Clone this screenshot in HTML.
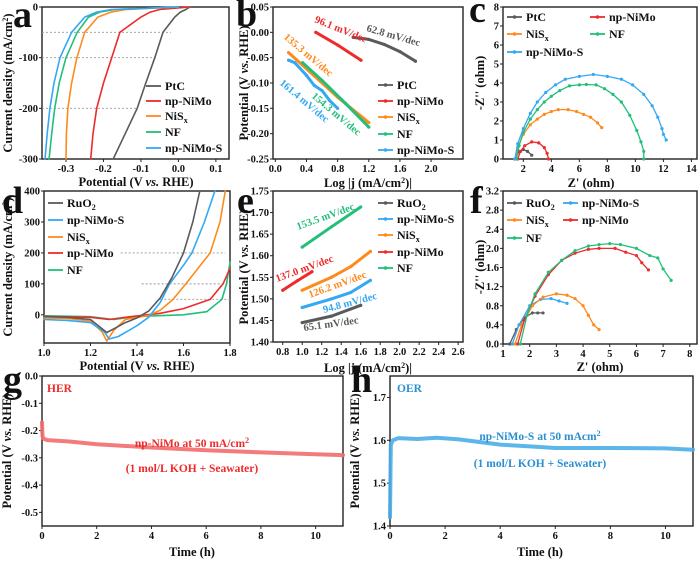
<!DOCTYPE html>
<html><head><meta charset="utf-8">
<style>
html,body{margin:0;padding:0;background:#fff;}
#fig{position:absolute;left:0;top:0;width:700px;height:562px;}
svg text{font-family:"Liberation Serif",serif;font-weight:bold;}
</style></head>
<body>
<svg id="fig" width="700" height="562" viewBox="0 0 700 562"></svg>
<script>
// ---------- DATA ----------
const aCurrent = [0,-5,-10,-20,-50,-100,-150,-200,-250,-300];
const aPtC     = [0.03,0.02,0.005,-0.01,-0.041,-0.063,-0.087,-0.11,-0.142,-0.174];
const aNiMo    = [0.03,-0.05,-0.075,-0.10,-0.156,-0.178,-0.2,-0.218,-0.228,-0.234];
const aNiSx    = [0.0,-0.14,-0.18,-0.215,-0.25,-0.271,-0.285,-0.295,-0.299,-0.30];
const aNF      = [0.0,-0.17,-0.21,-0.24,-0.27,-0.30,-0.318,-0.33,-0.338,-0.345];
const aNiMoS   = [0.0,-0.18,-0.218,-0.25,-0.285,-0.316,-0.332,-0.343,-0.35,-0.356];
const bPtCx=[1.0,1.2,1.4,1.6,1.8], bPtCy=[-0.01,-0.014,-0.024,-0.038,-0.057];
const bNiMox=[0.52,0.8,1.1], bNiMoy=[0.0,-0.025,-0.055];
const bNiSxx=[0.17,0.5,0.8,1.2], bNiSxy=[-0.04,-0.086,-0.128,-0.178];
const bNFx=[0.35,0.6,0.9,1.2], bNFy=[-0.06,-0.095,-0.14,-0.187];
const bNiMoSx=[0.17,0.25,0.4,0.5,0.6,0.7,0.8], bNiMoSy=[-0.055,-0.06,-0.085,-0.105,-0.115,-0.135,-0.15];
const cPtCx=[1.4,1.7,2.0,2.3,2.6], cPtCy=[0,0.4,0.5,0.4,0.2];
const cNiMox=[1.6,1.8,2.1,2.6,3.1,3.5,3.7,3.8], cNiMoy=[0,0.4,0.7,0.9,0.85,0.6,0.3,0];
const cNiSxx=[1.4,1.6,2,2.5,3,3.5,4,4.5,5.2,5.8,6.3,6.8,7.3,7.6], cNiSxy=[0,0.6,1.3,1.8,2.1,2.35,2.5,2.6,2.6,2.5,2.35,2.2,1.9,1.65];
const cNFx=[1.5,1.7,2,2.5,3,3.5,4,4.6,5.3,6,6.5,7.2,7.8,8.4,9,9.6,10.1,10.4,10.6,10.6], cNFy=[0,0.7,1.4,2.1,2.6,3.0,3.3,3.6,3.85,3.9,3.92,3.9,3.7,3.4,3.0,2.3,1.5,0.9,0.4,0];
const cNiMoSx=[1.4,1.6,2,2.5,3,3.6,4.3,5,6,7,8,9,9.8,10.6,11.2,11.6,11.9,12.0,12.2], cNiMoSy=[0,0.8,1.6,2.4,3.0,3.5,3.9,4.2,4.35,4.45,4.35,4.2,3.9,3.4,2.8,2.2,1.6,1.3,1.0];
const dRuO2x=[1.0,1.1,1.2,1.25,1.27,1.3,1.35,1.4,1.45,1.5,1.55,1.6,1.64,1.67], dRuO2y=[-5,-8,-15,-45,-57,-45,-25,-10,12,55,120,200,300,400];
const dNiMoSx=[1.0,1.1,1.2,1.26,1.28,1.32,1.4,1.45,1.5,1.54,1.6,1.636,1.69,1.735], dNiMoSy=[-15,-18,-25,-55,-78,-70,-35,-8,40,100,160,200,300,400];
const dNiSxx=[1.0,1.1,1.2,1.25,1.27,1.3,1.35,1.45,1.5,1.555,1.61,1.715,1.757,1.78], dNiSxy=[-10,-12,-20,-55,-85,-50,-15,-2,15,50,100,200,300,400];
const dNiMox=[1.0,1.2,1.28,1.35,1.5,1.6,1.715,1.77,1.8], dNiMoy=[-5,-8,-15,-8,5,20,50,100,150];
const dNFx=[1.0,1.2,1.3,1.4,1.6,1.7,1.765,1.785,1.8], dNFy=[-3,-6,-15,-5,0,10,50,100,170];
const eNFx=[1.0,1.3,1.6], eNFy=[1.62,1.667,1.713];
const eNiMox=[0.8,0.95,1.1], eNiMoy=[1.52,1.542,1.563];
const eNiSxx=[1.0,1.3,1.5,1.7], eNiSxy=[1.52,1.55,1.575,1.61];
const eNiMoSx=[1.0,1.3,1.5,1.7], eNiMoSy=[1.48,1.5,1.515,1.543];
const eRuO2x=[1.0,1.3,1.6], eRuO2y=[1.445,1.46,1.485];
const fRuO2x=[1.25,1.5,1.8,2.1,2.3,2.5], fRuO2y=[0,0.3,0.55,0.65,0.65,0.65];
const fNiMoSx=[1.35,1.6,2.0,2.4,2.8,3.1,3.4], fNiMoSy=[0,0.4,0.8,0.93,0.95,0.9,0.85];
const fNiSxx=[1.45,1.7,2.1,2.5,3,3.4,3.7,4.0,4.2,4.4,4.6], fNiSxy=[0,0.4,0.8,0.98,1.05,1.02,0.95,0.8,0.6,0.4,0.3];
const fNiMox=[1.55,1.8,2.2,2.7,3.2,3.7,4.2,4.6,5.2,5.6,6.0,6.2,6.45], fNiMoy=[0,0.5,1.0,1.45,1.75,1.9,1.98,2.0,2.0,1.92,1.85,1.7,1.55];
const fNFx=[1.65,1.9,2.2,2.7,3.2,3.7,4.2,4.6,5.0,5.4,6.0,6.5,6.8,7.0,7.3], fNFy=[0,0.6,1.05,1.5,1.75,1.95,2.05,2.08,2.1,2.08,2.0,1.85,1.8,1.57,1.33];
const gTime=[0,0.02,0.05,0.2,1,2,4,6,8,10,11], gPot=[-0.17,-0.22,-0.23,-0.235,-0.24,-0.25,-0.262,-0.272,-0.28,-0.287,-0.29];
const hTime=[0,0.03,0.1,0.3,1,1.7,2.5,3,4,5,6,8,10,11], hPot=[1.42,1.59,1.60,1.605,1.603,1.606,1.602,1.598,1.59,1.586,1.582,1.582,1.581,1.578];
const aXT=[-0.3,-0.2,-0.1,0.0,0.1], aXL=["-0.3","-0.2","-0.1","0.0","0.1"], aYT=[0,-100,-200,-300], aYL=["0","-100","-200","-300"];
const bXT=[0,0.4,0.8,1.2,1.6,2.0], bXL=["0.0","0.4","0.8","1.2","1.6","2.0"], bYT=[0.05,0,-0.05,-0.1,-0.15,-0.2,-0.25], bYL=["0.05","0.00","-0.05","-0.10","-0.15","-0.20","-0.25"];
const cXT=[2,4,6,8,10,12,14], cXL=["2","4","6","8","10","12","14"], cYT=[0,1,2,3,4,5,6,7,8], cYL=["0","1","2","3","4","5","6","7","8"];
const dXT=[1.0,1.2,1.4,1.6,1.8], dXL=["1.0","1.2","1.4","1.6","1.8"], dYT=[0,100,200,300,400], dYL=["0","100","200","300","400"];
const eXT=[0.8,1.0,1.2,1.4,1.6,1.8,2.0,2.2,2.4,2.6], eXL=["0.8","1.0","1.2","1.4","1.6","1.8","2.0","2.2","2.4","2.6"], eYT=[1.40,1.45,1.50,1.55,1.60,1.65,1.70,1.75], eYL=["1.40","1.45","1.50","1.55","1.60","1.65","1.70","1.75"];
const fXT=[1,2,3,4,5,6,7,8], fXL=["1","2","3","4","5","6","7","8"], fYT=[0,0.4,0.8,1.2,1.6,2.0,2.4,2.8,3.2], fYL=["0.0","0.4","0.8","1.2","1.6","2.0","2.4","2.8","3.2"];
const gXT=[0,2,4,6,8,10], gXL=["0","2","4","6","8","10"], gYT=[0,-0.1,-0.2,-0.3,-0.4,-0.5], gYL=["0.0","-0.1","-0.2","-0.3","-0.4","-0.5"];
const hXT=[0,2,4,6,8,10], hXL=["0","2","4","6","8","10"], hYT=[1.4,1.5,1.6,1.7], hYL=["1.4","1.5","1.6","1.7"];

const GRAY="#5a5a5a", RED="#ee2a2a", ORA="#ff8a1c", GRN="#22bf7a", BLU="#34a8f2";

const NS="http://www.w3.org/2000/svg";
const svg=document.getElementById('fig');
function mk(tag, attrs, parent, name){
  const el=document.createElementNS(NS, tag);
  for(const k in attrs) el.setAttribute(k, attrs[k]);
  
  
  parent.appendChild(el);
  return el;
}
function txt(parent, x, y, s, size, name, opt){
  opt=opt||{};
  const t=mk('text',{x:x,y:y,'font-size':size,fill:opt.fill||'#111','text-anchor':opt.anchor||'start'},parent,name);
  if(opt.rot!==undefined) t.setAttribute('transform','rotate('+opt.rot+' '+x+' '+y+')');
  t.innerHTML=s;
  return t;
}
function panel(id,b,xd,yd,xt,xl,yt,yl){
  const g=mk('g',{},svg,'panel-'+id);
  const sx=v=>b.x0+(v-xd[0])/(xd[1]-xd[0])*(b.x1-b.x0);
  const sy=v=>b.y1-(v-yd[0])/(yd[1]-yd[0])*(b.y1-b.y0);
  mk('rect',{x:b.x0,y:b.y0,width:b.x1-b.x0,height:b.y1-b.y0,fill:'none',stroke:'#222','stroke-width':1.4},g,'plot-frame-'+id);
  xt.forEach((v,i)=>{
    mk('line',{x1:sx(v),x2:sx(v),y1:b.y1,y2:b.y1+3,stroke:'#222'},g,'x-tick-'+id);
    txt(g,sx(v),b.y1+13,xl[i],10.5,'x-tick-label-'+id,{anchor:'middle'});
  });
  yt.forEach((v,i)=>{
    mk('line',{x1:b.x0-3,x2:b.x0,y1:sy(v),y2:sy(v),stroke:'#222'},g,'y-tick-'+id);
    txt(g,b.x0-4,sy(v)+3.5,yl[i],10.5,'y-tick-label-'+id,{anchor:'end'});
  });
  return {g,sx,sy};
}
function series(p,xs,ys,color,name,opt){
  opt=opt||{};
  const d=xs.map((x,i)=>(i?'L':'M')+p.sx(x).toFixed(1)+' '+p.sy(ys[i]).toFixed(1)).join(' ');
  mk('path',{d:d,fill:'none',stroke:color,'stroke-width':opt.w||1.6,'stroke-linejoin':'round','stroke-linecap':'round',opacity:opt.op||1},p.g,name);
  if(opt.dots){
    xs.forEach((x,i)=>{
      mk('circle',{cx:p.sx(x),cy:p.sy(ys[i]),r:opt.r||1.6,fill:color},p.g,name+'-point');
    });
  }
}
function legend(g,x,y,label,color,dots,name){
  mk('line',{x1:x,x2:x+15,y1:y,y2:y,stroke:color,'stroke-width':1.8},g,name+'-swatch');
  if(dots) mk('circle',{cx:x+7.5,cy:y,r:1.8,fill:color},g,name+'-marker');
  txt(g,x+19,y+4,label,12,name+'-label');
}
function dashed(p,x0,x1,y){
  mk('line',{x1:p.sx(x0),x2:p.sx(x1),y1:p.sy(y),y2:p.sy(y),stroke:'#999','stroke-dasharray':'2,2','stroke-width':0.9},p.g,'reference-line');
}

// ---- a ----
const pa=panel('a',{x0:42,x1:229,y0:7,y1:159},[-0.364,0.135],[-300,0],aXT,aXL,aYT,aYL);
dashed(pa,-0.364,-0.02,-50); dashed(pa,-0.364,-0.06,-100); dashed(pa,-0.364,-0.11,-200);
series(pa,aPtC,aCurrent,GRAY,'ptc-lsv-curve');
series(pa,aNiMo,aCurrent,RED,'np-nimo-lsv-curve');
series(pa,aNiSx,aCurrent,ORA,'nisx-lsv-curve');
series(pa,aNF,aCurrent,GRN,'nf-lsv-curve');
series(pa,aNiMoS,aCurrent,BLU,'np-nimo-s-lsv-curve');
legend(pa.g,146,86,'PtC',GRAY,false,'legend-ptc');
legend(pa.g,146,101,'np-NiMo',RED,false,'legend-np-nimo');
legend(pa.g,146,116,'NiS<tspan font-size="8" dy="3">x</tspan>',ORA,false,'legend-nisx');
legend(pa.g,146,132,'NF',GRN,false,'legend-nf');
legend(pa.g,146,148,'np-NiMo-S',BLU,false,'legend-np-nimo-s');
txt(svg,13,27,'a',38,'panel-label-a');
txt(svg,12,83,'Current density (mA/cm<tspan font-size="8" dy="-4">2</tspan><tspan dy="4">)</tspan>',12.5,'y-axis-title-a',{anchor:'middle',rot:-90});
txt(svg,136,186,'Potential (V <tspan font-style="italic">vs.</tspan> RHE)',12.5,'x-axis-title-a',{anchor:'middle'});

// ---- b ----
const pb=panel('b',{x0:273,x1:463,y0:7,y1:159},[-0.03,2.41],[-0.25,0.05],bXT,bXL,bYT,bYL);
series(pb,bPtCx,bPtCy,GRAY,'ptc-tafel-line',{w:3,dots:true});
series(pb,bNiMox,bNiMoy,RED,'np-nimo-tafel-line',{w:3,dots:true});
series(pb,bNiSxx,bNiSxy,ORA,'nisx-tafel-line',{w:3,dots:true});
series(pb,bNFx,bNFy,GRN,'nf-tafel-line',{w:3,dots:true});
series(pb,bNiMoSx,bNiMoSy,BLU,'np-nimo-s-tafel-line',{w:3,dots:true});
legend(pb.g,378,85,'PtC',GRAY,true,'legend-ptc');
legend(pb.g,378,101,'np-NiMo',RED,true,'legend-np-nimo');
legend(pb.g,378,117,'NiS<tspan font-size="8" dy="3">x</tspan>',ORA,true,'legend-nisx');
legend(pb.g,378,134,'NF',GRN,true,'legend-nf');
legend(pb.g,378,150,'np-NiMo-S',BLU,true,'legend-np-nimo-s');
txt(pb.g,314,22,'96.1 mV/dec',10.5,'slope-label-np-nimo',{fill:RED,rot:22});
txt(pb.g,366,31,'62.8 mV/dec',10.5,'slope-label-ptc',{fill:GRAY,rot:16});
txt(pb.g,283,38,'135.3 mV/dec',10.5,'slope-label-nisx',{fill:ORA,rot:40});
txt(pb.g,279,84,'161.4 mV/dec',10.5,'slope-label-np-nimo-s',{fill:BLU,rot:40});
txt(pb.g,311,97,'154.3 mV/dec',10.5,'slope-label-nf',{fill:GRN,rot:40});
txt(svg,236,26,'b',38,'panel-label-b');
txt(svg,248,83,'Potential (V <tspan font-style="italic">vs.</tspan> RHE)',12.5,'y-axis-title-b',{anchor:'middle',rot:-90});
txt(svg,368,187,'Log |j (mA/cm<tspan font-size="8" dy="-4">2</tspan><tspan dy="4">)|</tspan>',12.5,'x-axis-title-b',{anchor:'middle'});

// ---- c ----
const pc=panel('c',{x0:503,x1:697,y0:7,y1:159},[0.55,14.4],[0,8],cXT,cXL,cYT,cYL);
series(pc,cPtCx,cPtCy,GRAY,'ptc-nyquist',{dots:true,w:1.3});
series(pc,cNiMox,cNiMoy,RED,'np-nimo-nyquist',{dots:true,w:1.3});
series(pc,cNiSxx,cNiSxy,ORA,'nisx-nyquist',{dots:true,w:1.3});
series(pc,cNFx,cNFy,GRN,'nf-nyquist',{dots:true,w:1.3});
series(pc,cNiMoSx,cNiMoSy,BLU,'np-nimo-s-nyquist',{dots:true,w:1.3});
legend(pc.g,507,17,'PtC',GRAY,true,'legend-ptc');
legend(pc.g,590,17,'np-NiMo',RED,true,'legend-np-nimo');
legend(pc.g,507,34,'NiS<tspan font-size="8" dy="3">x</tspan>',ORA,true,'legend-nisx');
legend(pc.g,590,34,'NF',GRN,true,'legend-nf');
legend(pc.g,507,52,'np-NiMo-S',BLU,true,'legend-np-nimo-s');
txt(svg,469,22,'c',38,'panel-label-c');
txt(svg,484,83,'-Z\'\' (ohm)',12.5,'y-axis-title-c',{anchor:'middle',rot:-90});
txt(svg,591,187,'Z\' (ohm)',12.5,'x-axis-title-c',{anchor:'middle'});

// ---- d ----
const pd=panel('d',{x0:44,x1:230,y0:191,y1:343},[1.0,1.8],[-91,400],dXT,dXL,dYT,dYL);
dashed(pd,1.33,1.78,200); dashed(pd,1.42,1.8,100); dashed(pd,1.5,1.8,50);
series(pd,dNFx,dNFy,GRN,'nf-oer-lsv');
series(pd,dNiMox,dNiMoy,RED,'np-nimo-oer-lsv');
series(pd,dNiSxx,dNiSxy,ORA,'nisx-oer-lsv');
series(pd,dNiMoSx,dNiMoSy,BLU,'np-nimo-s-oer-lsv');
series(pd,dRuO2x,dRuO2y,GRAY,'ruo2-oer-lsv');
legend(pd.g,48,203,'RuO<tspan font-size="8" dy="3">2</tspan>',GRAY,false,'legend-ruo2');
legend(pd.g,48,220,'np-NiMo-S',BLU,false,'legend-np-nimo-s');
legend(pd.g,48,237,'NiS<tspan font-size="8" dy="3">x</tspan>',ORA,false,'legend-nisx');
legend(pd.g,48,253,'np-NiMo',RED,false,'legend-np-nimo');
legend(pd.g,48,270,'NF',GRN,false,'legend-nf');
txt(svg,2,213,'d',38,'panel-label-d');
txt(svg,12,267,'Current density (mA/cm<tspan font-size="8" dy="-4">2</tspan><tspan dy="4">)</tspan>',12.5,'y-axis-title-d',{anchor:'middle',rot:-90});
txt(svg,137,370,'Potential (V <tspan font-style="italic">vs.</tspan> RHE)',12.5,'x-axis-title-d',{anchor:'middle'});

// ---- e ----
const pe=panel('e',{x0:273,x1:463,y0:191,y1:342},[0.70,2.65],[1.40,1.75],eXT,eXL,eYT,eYL);
series(pe,eNFx,eNFy,GRN,'nf-oer-tafel',{w:3,dots:true});
series(pe,eNiMox,eNiMoy,RED,'np-nimo-oer-tafel',{w:3,dots:true});
series(pe,eNiSxx,eNiSxy,ORA,'nisx-oer-tafel',{w:3,dots:true});
series(pe,eNiMoSx,eNiMoSy,BLU,'np-nimo-s-oer-tafel',{w:3,dots:true});
series(pe,eRuO2x,eRuO2y,GRAY,'ruo2-oer-tafel',{w:3,dots:true});
legend(pe.g,378,203,'RuO<tspan font-size="8" dy="3">2</tspan>',GRAY,true,'legend-ruo2');
legend(pe.g,378,219,'np-NiMo-S',BLU,true,'legend-np-nimo-s');
legend(pe.g,378,235,'NiS<tspan font-size="8" dy="3">x</tspan>',ORA,true,'legend-nisx');
legend(pe.g,378,252,'np-NiMo',RED,true,'legend-np-nimo');
legend(pe.g,378,268,'NF',GRN,true,'legend-nf');
txt(pe.g,298,230,'153.5 mV/dec',10.5,'slope-label-nf',{fill:GRN,rot:-20});
txt(pe.g,277,282,'137.0 mV/dec',10.5,'slope-label-np-nimo',{fill:RED,rot:-20});
txt(pe.g,310,298,'126.2 mV/dec',10.5,'slope-label-nisx',{fill:ORA,rot:-20});
txt(pe.g,324,313,'94.8 mV/dec',10.5,'slope-label-np-nimo-s',{fill:BLU,rot:-15});
txt(pe.g,304,331,'65.1 mV/dec',10.5,'slope-label-ruo2',{fill:GRAY,rot:-8});
txt(svg,237,213,'e',38,'panel-label-e');
txt(svg,248,267,'Potential (V <tspan font-style="italic">vs.</tspan> RHE)',12.5,'y-axis-title-e',{anchor:'middle',rot:-90});
txt(svg,368,372,'Log |j (mA/cm<tspan font-size="8" dy="-4">2</tspan><tspan dy="4">)|</tspan>',12.5,'x-axis-title-e',{anchor:'middle'});

// ---- f ----
const pf=panel('f',{x0:503,x1:697,y0:191,y1:344},[1,8.27],[0,3.2],fXT,fXL,fYT,fYL);
series(pf,fRuO2x,fRuO2y,GRAY,'ruo2-nyquist',{dots:true,w:1.3});
series(pf,fNiMoSx,fNiMoSy,BLU,'np-nimo-s-oer-nyquist',{dots:true,w:1.3});
series(pf,fNiSxx,fNiSxy,ORA,'nisx-oer-nyquist',{dots:true,w:1.3});
series(pf,fNiMox,fNiMoy,RED,'np-nimo-oer-nyquist',{dots:true,w:1.3});
series(pf,fNFx,fNFy,GRN,'nf-oer-nyquist',{dots:true,w:1.3});
legend(pf.g,507,203,'RuO<tspan font-size="8" dy="3">2</tspan>',GRAY,true,'legend-ruo2');
legend(pf.g,563,203,'np-NiMo-S',BLU,true,'legend-np-nimo-s');
legend(pf.g,507,220,'NiS<tspan font-size="8" dy="3">x</tspan>',ORA,true,'legend-nisx');
legend(pf.g,563,220,'np-NiMo',RED,true,'legend-np-nimo');
legend(pf.g,507,238,'NF',GRN,true,'legend-nf');
txt(svg,470,213,'f',38,'panel-label-f');
txt(svg,484,267,'-Z\'\' (ohm)',12.5,'y-axis-title-f',{anchor:'middle',rot:-90});
txt(svg,600,371,'Z\' (ohm)',12.5,'x-axis-title-f',{anchor:'middle'});

// ---- g ----
const pg=panel('g',{x0:42,x1:343,y0:376,y1:526},[0,11],[-0.55,0],gXT,gXL,gYT,gYL);
series(pg,gTime,gPot,'#f26d6d','her-stability-curve',{w:4,op:0.9});
txt(pg.g,47,392,'HER',11.5,'her-label',{fill:RED});
txt(pg.g,192,447,'np-NiMo at 50 mA/cm<tspan font-size="8" dy="-4">2</tspan>',11.5,'her-condition-label',{fill:RED,anchor:'middle'});
txt(pg.g,192,472,'(1 mol/L KOH + Seawater)',11.5,'her-electrolyte-label',{fill:RED,anchor:'middle'});
txt(svg,3,392,'g',38,'panel-label-g');
txt(svg,11,451,'Potential (V <tspan font-style="italic">vs.</tspan> RHE)',12.5,'y-axis-title-g',{anchor:'middle',rot:-90});
txt(svg,192,556,'Time (h)',12.5,'x-axis-title-g',{anchor:'middle'});

// ---- h ----
const ph=panel('h',{x0:390,x1:693,y0:376,y1:526},[0,11],[1.4,1.75],hXT,hXL,hYT,hYL);
series(ph,hTime,hPot,'#4aaee8','oer-stability-curve',{w:4,op:0.9});
txt(ph.g,397,392,'OER',11.5,'oer-label',{fill:'#2a8fd0'});
txt(ph.g,540,440,'np-NiMo-S at 50 mAcm<tspan font-size="8" dy="-4">2</tspan>',11.5,'oer-condition-label',{fill:'#2a8fd0',anchor:'middle'});
txt(ph.g,540,467,'(1 mol/L KOH + Seawater)',11.5,'oer-electrolyte-label',{fill:'#2a8fd0',anchor:'middle'});
txt(svg,351,392,'h',38,'panel-label-h');
txt(svg,359,451,'Potential (V <tspan font-style="italic">vs.</tspan> RHE)',12.5,'y-axis-title-h',{anchor:'middle',rot:-90});
txt(svg,540,556,'Time (h)',12.5,'x-axis-title-h',{anchor:'middle'});
</script>
</body></html>
